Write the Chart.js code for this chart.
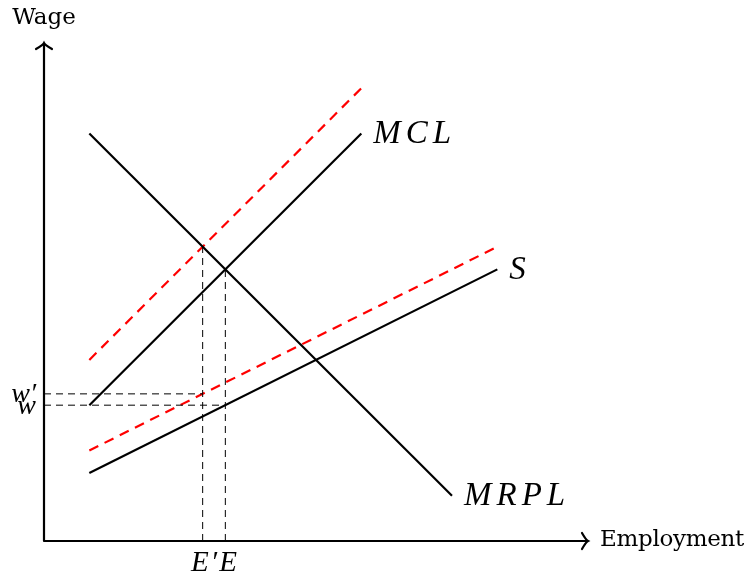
<!DOCTYPE html>
<html>
<head>
<meta charset="utf-8">
<script src="https://cdn.jsdelivr.net/npm/chart.js@4"></script>
<style>
  body { margin: 0; background: #fff; }
  canvas { display: block; }
</style>
</head>
<body>
<canvas id="chart" width="748" height="577"></canvas>
<script>
// Curves (employment, wage)
const mrpl = [{x: 1, y: 9}, {x: 9, y: 1}];
const mcl = [{x: 1, y: 3}, {x: 7, y: 9}];
const supply = [{x: 1, y: 1.5}, {x: 10, y: 6}];
const mclShift = [{x: 1, y: 4}, {x: 7, y: 10}];
const supplyShift = [{x: 1, y: 2}, {x: 10, y: 6.5}];

// Equilibrium guides
const eShift = [{x: 3.5, y: 0}, {x: 3.5, y: 6.5}];
const e = [{x: 4, y: 0}, {x: 4, y: 6}];
const wShift = [{x: 0, y: 3.25}, {x: 3.5, y: 3.25}];
const w = [{x: 0, y: 3}, {x: 4, y: 3}];

// Labels
const curveLabels = [
    {text: "MCL", x: 7, y: 9},
    {text: "S", x: 10, y: 6},
    {text: "MRPL", x: 9, y: 1}
];
const yTickLabels = [{text: "w\u2032", y: 3.25}, {text: "w", y: 3}];
const xTickLabels = [{text: "E\u2032E", x: 3.75}];
const xMax = 12, yMax = 11;

function solid(data, color) {
    return {data: data, borderColor: color, borderWidth: 2.2, showLine: true, pointRadius: 0, fill: false};
}
function dashed(data, color, width, dash) {
    let d = solid(data, color);
    d.borderWidth = width;
    d.borderDash = dash;
    return d;
}

// Draw axes with arrows and all text
const diagramPlugin = {
    id: "diagram",
    afterDatasetsDraw(chart) {
        const ctx = chart.ctx;
        const xs = chart.scales.x, ys = chart.scales.y;
        const x0 = xs.getPixelForValue(0), y0 = ys.getPixelForValue(0);
        const x1 = xs.getPixelForValue(xMax), y1 = ys.getPixelForValue(yMax);
        ctx.save();
        ctx.strokeStyle = "#000";
        ctx.lineWidth = 2.2;
        ctx.lineCap = "round";
        ctx.beginPath();
        ctx.moveTo(x0, y0); ctx.lineTo(x1, y0);
        ctx.moveTo(x0, y0); ctx.lineTo(x0, y1);
        // arrow heads
        ctx.moveTo(x1 - 6, y0 - 8); ctx.quadraticCurveTo(x1 - 2, y0 - 1, x1, y0); ctx.quadraticCurveTo(x1 - 2, y0 + 1, x1 - 6, y0 + 8);
        ctx.moveTo(x0 - 8, y1 + 6); ctx.quadraticCurveTo(x0 - 1, y1 + 2, x0, y1); ctx.quadraticCurveTo(x0 + 1, y1 + 2, x0 + 8, y1 + 6);
        ctx.stroke();

        ctx.fillStyle = "#000";
        ctx.font = "23px 'DejaVu Serif'";
        ctx.textBaseline = "middle";
        ctx.textAlign = "center";
        ctx.fillText("Wage", x0, y1 - 25);
        ctx.textAlign = "left";
        ctx.letterSpacing = "-0.3px";
        ctx.fillText("Employment", x1 + 12, y0 - 1);

        ctx.font = "italic 33px 'Liberation Serif'";
        ctx.letterSpacing = "5px";
        curveLabels.forEach(l => {
            ctx.fillText(l.text, xs.getPixelForValue(l.x) + 12, ys.getPixelForValue(l.y) + 1);
        });
        ctx.letterSpacing = "0px";
        ctx.font = "italic 28px 'Liberation Serif'";
        ctx.textAlign = "right";
        yTickLabels.forEach(l => {
            ctx.fillText(l.text, x0 - 8, ys.getPixelForValue(l.y) + 1);
        });
        ctx.textAlign = "center";
        ctx.font = "italic 29px 'Liberation Serif'";
        ctx.letterSpacing = "2px";
        xTickLabels.forEach(l => {
            ctx.fillText(l.text, xs.getPixelForValue(l.x) + 1, y0 + 22);
        });
        ctx.restore();
    }
};

new Chart(document.getElementById("chart"), {
    type: "scatter",
    data: {
        datasets: [
            dashed(eShift, "#000", 1, [7, 5]),
            dashed(e, "#000", 1, [7, 5]),
            dashed(wShift, "#000", 1, [7, 5]),
            dashed(w, "#000", 1, [7, 5]),
            solid(mrpl, "#000"),
            solid(mcl, "#000"),
            solid(supply, "#000"),
            dashed(mclShift, "#ff0000", 2.2, [10, 7]),
            dashed(supplyShift, "#ff0000", 2.2, [10, 7])
        ]
    },
    options: {
        responsive: false,
        animation: false,
        layout: {padding: {left: 44, right: 160, top: 43, bottom: 36}},
        scales: {
            x: {type: "linear", min: 0, max: xMax, display: false},
            y: {type: "linear", min: 0, max: yMax, display: false}
        },
        plugins: {
            legend: {display: false},
            tooltip: {enabled: false}
        },
        events: []
    },
    plugins: [diagramPlugin]
});
</script>
</body>
</html>
